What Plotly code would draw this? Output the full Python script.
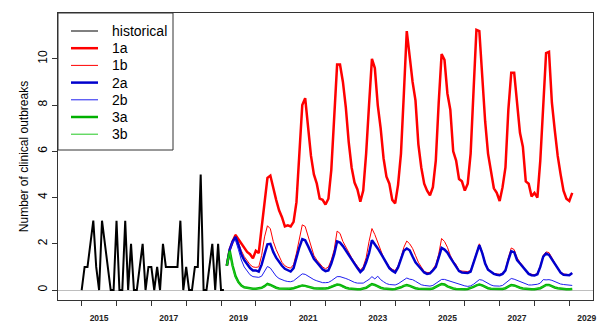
import plotly.graph_objects as go

# ---- data ----
hist_start_year = 2015
hist_values = [0, 1, 1, 2, 3, 1, 0, 3, 2, 1, 0, 0, 3, 0, 0, 3, 0, 2, 0, 0,
               1, 2, 0, 1, 1, 0, 1, 0, 2, 1, 1, 1, 1, 1, 3, 0, 1, 0, 0, 1,
               1, 5, 0, 0, 1, 2, 0, 2, 0, 0]
proj_start_month = 50  # months after Jan 2015

s1a = [1.05, 1.75, 2.1, 2.38, 2.2, 2.0, 1.8, 1.65, 1.55, 1.37,
       1.7, 1.6, 2.7, 3.7, 4.85, 4.95, 4.4, 3.9, 3.45, 3.15,
       2.75, 2.8, 2.75, 2.95, 3.8, 5.9, 8.0, 8.3, 6.9, 5.8,
       5.0, 4.6, 3.95, 3.9, 3.7, 3.95, 5.2, 7.6, 9.75, 9.75,
       9.0, 7.9, 6.4, 5.3, 4.65, 4.35, 3.82, 4.3, 5.9, 8.0,
       10.0, 9.6, 8.0, 7.0, 5.7, 4.9, 4.6, 3.9, 3.75, 4.55,
       5.9, 8.5, 11.2, 10.1, 9.0, 8.2, 6.3, 5.3, 4.6, 4.3,
       4.1, 4.45, 5.6, 8.1, 10.2, 9.95, 8.5, 7.8, 6.0, 5.6,
       4.8, 4.7, 4.3, 4.6, 5.9, 8.6, 11.25, 11.2, 9.1, 7.3,
       5.9, 5.2, 4.4, 4.2, 3.85, 4.45, 5.3, 7.8, 9.4, 9.4,
       8.15, 6.8, 6.2, 4.7, 4.6, 4.05, 4.2, 4.0, 5.6, 8.1,
       10.25, 10.3, 8.1, 6.9, 5.8, 5.0, 4.3, 3.95, 3.85, 4.2]

s1b = [1.05, 1.75, 2.15, 2.4, 2.05, 1.7, 1.45, 1.25, 1.1, 1.0,
       0.98, 1.0, 1.5, 2.3, 2.78, 2.65, 2.1, 1.75, 1.45, 1.2,
       1.05, 0.98, 0.95, 1.1, 1.6, 2.2, 2.82, 2.75, 2.3, 1.9,
       1.5, 1.3, 1.15, 1.0, 0.92, 1.0, 1.3, 1.75, 2.55, 2.45,
       2.1, 1.85, 1.6, 1.4, 1.2, 1.0, 0.86, 1.0, 1.4, 2.1,
       2.66, 2.4, 2.05, 1.7, 1.4, 1.2, 1.0, 0.9, 0.84, 1.05,
       1.4, 1.85, 2.12, 2.0, 1.8, 1.5, 1.2, 1.0, 0.8, 0.76,
       0.76, 0.9, 1.1, 1.55, 2.23, 2.1, 1.85, 1.5, 1.25, 1.1,
       0.85, 0.82, 0.82, 0.8, 0.85, 1.2, 1.6, 2.0, 1.65, 1.2,
       0.92, 0.8, 0.72, 0.7, 0.68, 0.72, 0.9, 1.4, 1.82, 1.75,
       1.4, 1.2, 1.05, 0.82, 0.72, 0.68, 0.66, 0.72, 1.05, 1.5,
       1.65, 1.62, 1.4, 1.15, 0.95, 0.78, 0.7, 0.68, 0.66, 0.72]

s2a = [1.05, 1.75, 2.1, 2.3, 1.95, 1.55, 1.3, 1.1, 0.95, 0.85,
       0.85, 0.8, 1.1, 1.55, 1.98, 2.0, 1.65, 1.4, 1.2, 1.05,
       0.92, 0.85, 0.8, 0.95, 1.45, 1.85, 2.2, 2.15, 1.9, 1.6,
       1.35, 1.2, 1.05, 0.9, 0.82, 0.85, 1.15, 1.55, 2.1, 2.05,
       1.9, 1.7, 1.5, 1.3, 1.15, 0.95, 0.78, 0.9, 1.2, 1.6,
       2.15, 2.0, 1.8, 1.6, 1.4, 1.2, 0.95, 0.84, 0.76, 0.98,
       1.3, 1.7, 1.8, 1.72, 1.45, 1.2, 1.05, 0.9, 0.76, 0.7,
       0.72, 0.85, 1.0, 1.4, 1.82, 1.75, 1.62, 1.4, 1.2, 1.05,
       0.82, 0.76, 0.74, 0.74, 0.8, 1.15, 1.55, 1.94, 1.6, 1.15,
       0.88, 0.77, 0.7, 0.66, 0.64, 0.7, 0.85, 1.3, 1.68, 1.64,
       1.3, 1.15, 1.0, 0.8, 0.7, 0.64, 0.63, 0.68, 1.0, 1.44,
       1.58, 1.52, 1.32, 1.1, 0.9, 0.75, 0.66, 0.64, 0.64, 0.74]

s2b = [1.05, 1.7, 2.1, 2.15, 1.75, 1.3, 1.0, 0.8, 0.66, 0.58,
       0.55, 0.55, 0.6, 0.8, 1.02, 0.95, 0.75, 0.6, 0.5, 0.44,
       0.4, 0.37, 0.36, 0.4, 0.5, 0.62, 0.7, 0.68, 0.6, 0.5,
       0.45, 0.4, 0.35, 0.32, 0.32, 0.33, 0.4, 0.5, 0.58, 0.58,
       0.55, 0.5, 0.45, 0.38, 0.33, 0.3, 0.29, 0.3, 0.38, 0.46,
       0.58, 0.48, 0.6, 0.45, 0.36, 0.28, 0.24, 0.22, 0.22, 0.27,
       0.36, 0.46, 0.52, 0.47, 0.45, 0.38, 0.3, 0.23, 0.2, 0.18,
       0.17, 0.2, 0.3, 0.4, 0.46, 0.46, 0.42, 0.38, 0.32, 0.28,
       0.26, 0.22, 0.18, 0.16, 0.18, 0.25, 0.36, 0.45, 0.43, 0.36,
       0.28, 0.22, 0.18, 0.17, 0.17, 0.2, 0.3, 0.42, 0.5, 0.47,
       0.42, 0.36, 0.3, 0.25, 0.22, 0.22, 0.22, 0.25, 0.3, 0.45,
       0.44, 0.45, 0.42, 0.36, 0.3, 0.26, 0.24, 0.22, 0.21, 0.2]

s3a = [1.05, 1.7, 1.05, 0.6, 0.35, 0.2, 0.12, 0.09, 0.07, 0.06,
       0.06, 0.07, 0.1, 0.17, 0.27, 0.22, 0.15, 0.1, 0.07, 0.06,
       0.05, 0.05, 0.06, 0.08, 0.12, 0.18, 0.2, 0.18, 0.14, 0.1,
       0.08, 0.07, 0.06, 0.06, 0.07, 0.09, 0.14, 0.2, 0.24, 0.22,
       0.15, 0.1, 0.07, 0.05, 0.04, 0.04, 0.04, 0.06, 0.1, 0.18,
       0.26, 0.22, 0.15, 0.1, 0.07, 0.05, 0.04, 0.04, 0.05, 0.07,
       0.12, 0.18, 0.22, 0.18, 0.12, 0.08, 0.06, 0.05, 0.04, 0.04,
       0.05, 0.07, 0.12, 0.2, 0.26, 0.24, 0.16, 0.1, 0.07, 0.05,
       0.04, 0.04, 0.04, 0.05, 0.08, 0.14, 0.2, 0.24, 0.2, 0.13,
       0.08, 0.06, 0.05, 0.04, 0.04, 0.05, 0.08, 0.14, 0.22, 0.2,
       0.14, 0.1, 0.07, 0.05, 0.04, 0.04, 0.04, 0.05, 0.08, 0.15,
       0.22, 0.22, 0.16, 0.11, 0.08, 0.06, 0.05, 0.04, 0.04, 0.05]

s3b = [1.05, 1.65, 1.0, 0.55, 0.32, 0.18, 0.11, 0.08, 0.06, 0.05,
       0.05, 0.06, 0.09, 0.15, 0.24, 0.2, 0.13, 0.09, 0.06, 0.05,
       0.05, 0.06, 0.08, 0.1, 0.14, 0.2, 0.18, 0.16, 0.12, 0.09,
       0.07, 0.06, 0.05, 0.05, 0.06, 0.1, 0.16, 0.22, 0.22, 0.2,
       0.13, 0.09, 0.06, 0.05, 0.04, 0.04, 0.05, 0.07, 0.12, 0.2,
       0.24, 0.2, 0.13, 0.09, 0.06, 0.05, 0.04, 0.04, 0.05, 0.08,
       0.13, 0.2, 0.2, 0.16, 0.11, 0.08, 0.06, 0.05, 0.04, 0.04,
       0.05, 0.08, 0.13, 0.2, 0.24, 0.22, 0.15, 0.1, 0.07, 0.05,
       0.04, 0.04, 0.05, 0.06, 0.09, 0.15, 0.22, 0.22, 0.18, 0.12,
       0.08, 0.06, 0.05, 0.04, 0.04, 0.05, 0.09, 0.15, 0.2, 0.18,
       0.13, 0.09, 0.07, 0.05, 0.04, 0.04, 0.05, 0.06, 0.09, 0.16,
       0.2, 0.2, 0.15, 0.1, 0.07, 0.05, 0.05, 0.04, 0.04, 0.04]

series_names = ["1a", "1b", "2a", "2b", "3a", "3b"]
series_values = [s1a, s1b, s2a, s2b, s3a, s3b]
series_colors = ["#FF0000", "#FF0000", "#0000CD", "#1E1EF0", "#00B000", "#22C822"]
series_widths = [2.5, 1, 2.5, 1, 2.5, 1]

legend_labels = ["historical"] + series_names
legend_colors = ["black"] + series_colors
legend_widths = [1] + series_widths

year_ticks = list(range(2015, 2030))
year_labels = ["2015", "2017", "2019", "2021", "2023", "2025", "2027", "2029"]
y_ticks = [0, 2, 4, 6, 8, 10]

# ---- figure ----
W, H = 599, 322
ML, MR, MT, MB = 58, 6, 13, 22
PW, PH = W - ML - MR, H - MT - MB

hist_x = [hist_start_year + i / 12 for i in range(len(hist_values))]
fig = go.Figure()
fig.add_trace(go.Scatter(x=hist_x, y=hist_values, mode="lines",
                         line=dict(color="black", width=2), name="historical"))
fig.add_trace(go.Scatter(x=[None], y=[None], xaxis="x2", showlegend=False,
                         hoverinfo="skip"))
for name, vals, col, w in zip(series_names, series_values, series_colors, series_widths):
    xs = [hist_start_year + (proj_start_month + i) / 12 for i in range(len(vals))]
    fig.add_trace(go.Scatter(x=xs, y=vals, mode="lines", name=name,
                             line=dict(color=col, width=w)))

font_family = "Liberation Sans, Arial, sans-serif"

# legend box (drawn in plot-area paper coordinates, as in base R legend())
def px_x(p):
    return p / PW

def px_y(p):
    return 1 - p / PH

shapes = [dict(type="rect", xref="paper", yref="paper",
               x0=px_x(0), x1=px_x(115), y0=px_y(137), y1=px_y(0),
               line=dict(color="#333333", width=1), fillcolor="white", layer="above")]
annotations = []
row0, row_step = 18, 17.2
for k, (lab, col, w) in enumerate(zip(legend_labels, legend_colors, legend_widths)):
    yy = px_y(row0 + k * row_step)
    shapes.append(dict(type="line", xref="paper", yref="paper",
                       x0=px_x(13), x1=px_x(40), y0=yy, y1=yy,
                       line=dict(color=col, width=w), layer="above"))
    annotations.append(dict(xref="paper", yref="paper", x=px_x(52), y=yy,
                            text=lab, showarrow=False, xanchor="left", yanchor="middle",
                            font=dict(size=14, family=font_family, color="black")))

xr = [2014.32, 2029.68]
fig.update_layout(
    width=W, height=H,
    margin=dict(l=ML, r=MR, t=MT, b=MB, pad=0, autoexpand=False),
    paper_bgcolor="white", plot_bgcolor="white",
    font=dict(family=font_family, color="black"),
    showlegend=False,
    shapes=shapes, annotations=annotations,
    xaxis=dict(range=xr, tickvals=year_ticks, showticklabels=False,
               ticks="outside", ticklen=5, tickcolor="#333333", automargin=False,
               showline=True, linecolor="#333333", linewidth=1, mirror=True,
               showgrid=False, zeroline=False),
    xaxis2=dict(range=xr, overlaying="x", anchor="y", side="bottom", automargin=False,
                tickvals=[int(s) + 0.5 for s in year_labels], ticktext=year_labels,
                ticks="outside", ticklen=10, tickcolor="rgba(0,0,0,0)",
                tickfont=dict(size=8.5, family=font_family, weight="bold",
                              color="#222222"),
                showline=False, showgrid=False, zeroline=False),
    yaxis=dict(range=[-0.43, 11.98], tickvals=y_ticks, ticks="outside", ticklen=5,
               tickcolor="#333333", tickangle=-90, tickfont=dict(size=12),
               automargin=False,
               title=dict(text="Number of clinical outbreaks", font=dict(size=12),
                          standoff=5),
               showline=True, linecolor="#333333", linewidth=1, mirror=True,
               showgrid=False, zeroline=True, zerolinecolor="#BEBEBE",
               zerolinewidth=1),
)

fig.write_html("out.html")
